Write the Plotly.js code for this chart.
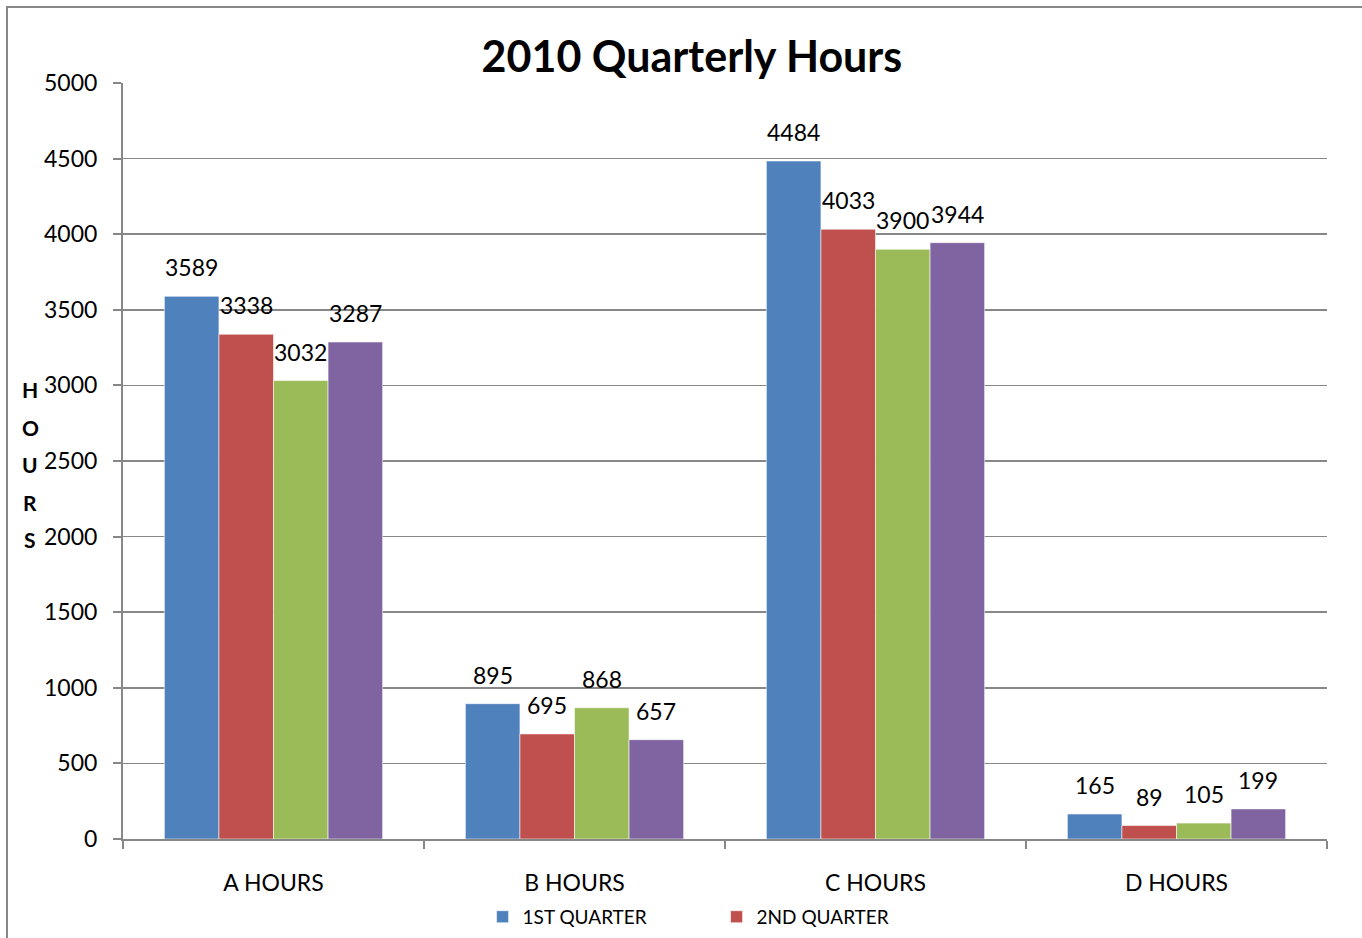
<!DOCTYPE html>
<html>
<head>
<meta charset="utf-8">
<script src="https://cdn.plot.ly/plotly-3.0.1.min.js"></script>
<style>
html,body{margin:0;padding:0;background:#fff;}
#chart{width:1362px;height:938px;}
</style>
</head>
<body>
<div id="chart"></div>
<script>
const categories = ["A HOURS", "B HOURS", "C HOURS", "D HOURS"];
const seriesNames = ["1ST QUARTER", "2ND QUARTER", "3RD QUARTER", "4TH QUARTER"];
const q1 = [3589, 895, 4484, 165];
const q2 = [3338, 695, 4033, 89];
const q3 = [3032, 868, 3900, 105];
const q4 = [3287, 657, 3944, 199];
const yTicks = [0, 500, 1000, 1500, 2000, 2500, 3000, 3500, 4000, 4500, 5000];
const chartTitle = "2010 Quarterly Hours";
const yTitle = "HOURS";

const colors = ["#4F81BD", "#C0504D", "#9BBB59", "#8064A2"];
const allSeries = [q1, q2, q3, q4];
const FONT = "Lato, 'Open Sans', sans-serif";

const traces = allSeries.map((vals, i) => ({
  type: "bar",
  name: seriesNames[i],
  x: categories,
  y: vals,
  marker: {color: colors[i], line: {color: "rgba(255,255,255,0.55)", width: 1}},
  showlegend: i < 2,
  hoverinfo: "y"
}));

const bargap = 0.275;
const barW = (1 - bargap) / 4;
const annotations = [];
allSeries.forEach((vals, i) => {
  vals.forEach((v, j) => {
    annotations.push({
      x: j + (i - 1.5) * barW,
      y: v,
      xref: "x", yref: "y",
      text: String(v),
      showarrow: false,
      yanchor: "bottom",
      yshift: 13,
      font: {family: FONT, size: 23, color: "#000"}
    });
  });
});

// stacked vertical axis title letters
const letters = yTitle.split("");
letters.forEach((ch, k) => {
  annotations.push({
    xref: "paper", yref: "paper",
    x: -0.077, y: (2970 - k * 248) / 5000,
    text: "<b>" + ch + "</b>",
    showarrow: false,
    xanchor: "center", yanchor: "middle",
    font: {family: FONT, size: 21, color: "#000"}
  });
});

const layout = {
  width: 1362, height: 938,
  margin: {l: 123, r: 35, t: 83, b: 99, autoexpand: false},
  paper_bgcolor: "#fff",
  plot_bgcolor: "#fff",
  title: {
    text: "<b>" + chartTitle + "</b>",
    font: {family: FONT, size: 43, color: "#000"},
    x: 0.508, xanchor: "center",
    y: 0.939, yanchor: "middle"
  },
  barmode: "group",
  bargap: bargap,
  bargroupgap: 0,
  xaxis: {
    type: "category",
    tickson: "boundaries",
    ticks: "outside",
    ticklen: 8,
    tickwidth: 2,
    tickcolor: "#878787",
    showline: true,
    linecolor: "#878787",
    linewidth: 2,
    showgrid: false,
    tickfont: {family: FONT, size: 23, color: "#000"},
    ticklabelstandoff: 22,
    automargin: false,
    fixedrange: true
  },
  yaxis: {
    range: [0, 5000],
    tickvals: yTicks,
    ticktext: yTicks.map(String),
    ticks: "outside",
    ticklen: 8,
    tickwidth: 2,
    tickcolor: "#878787",
    showline: true,
    linecolor: "#878787",
    linewidth: 2,
    showgrid: true,
    gridcolor: "#878787",
    gridwidth: 1.5,
    zeroline: false,
    tickfont: {family: FONT, size: 23, color: "#000"},
    ticklabelstandoff: 11,
    automargin: false,
    fixedrange: true
  },
  legend: {
    orientation: "h",
    x: 0.493, xanchor: "center",
    y: -0.103, yanchor: "middle",
    entrywidth: 189,
    entrywidthmode: "pixels",
    bgcolor: "rgba(0,0,0,0)",
    font: {family: FONT, size: 19, color: "#000"},
    itemwidth: 30,
    traceorder: "normal"
  },
  annotations: annotations,
  shapes: [{
    type: "rect", xref: "paper", yref: "paper",
    x0: (7 - 123) / 1204, x1: 1.1,
    y0: -0.3, y1: (839 - 7) / 756,
    line: {color: "#878787", width: 2},
    fillcolor: "rgba(0,0,0,0)",
    layer: "below"
  }]
};

Plotly.newPlot("chart", traces, layout, {displayModeBar: false, staticPlot: true});
</script>
</body>
</html>
